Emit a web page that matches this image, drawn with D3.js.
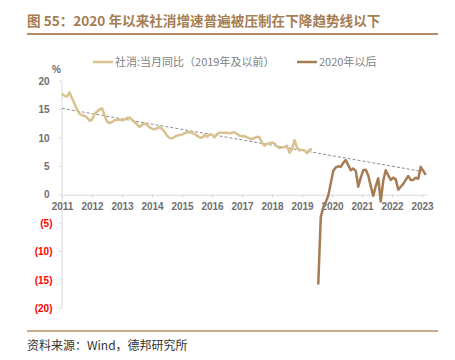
<!DOCTYPE html>
<html><head><meta charset="utf-8">
<script src="https://cdn.jsdelivr.net/npm/d3@7"></script>
<style>
body{margin:0;background:#fff;}
svg{display:block;font-family:"Liberation Sans","Noto Sans CJK SC",sans-serif;}
</style></head>
<body><svg id="c" width="455" height="360"></svg>
<script>
const title = "图 55：2020 年以来社消增速普遍被压制在下降趋势线以下";
const source = "资料来源：Wind，德邦研究所";
const legendLabels = ["社消:当月同比（2019年及以前）", "2020年以后"];
const yearLabels = ["2011","2012","2013","2014","2015","2016","2017","2018","2019","2020","2021","2022","2023"];
const yTicks = [20, 15, 10, 5, 0, -5, -10, -15, -20];
// monthly values, month index 0 = Jan 2011
const series1 = [17.8,17.4,17.3,18.0,17.0,16.0,15.0,14.3,14.0,13.9,13.6,13.0,
  13.2,14.2,14.6,15.0,15.2,14.0,12.9,12.6,12.8,13.1,13.2,13.2,
  13.1,13.2,13.5,13.6,13.2,12.8,12.4,11.9,12.3,12.5,12.3,11.9,
  11.6,11.5,11.7,11.9,11.6,11.1,10.4,10.0,9.9,10.2,10.4,10.5,
  10.6,10.8,11.0,11.0,10.9,10.7,10.4,10.1,10.0,10.5,10.2,10.6,
  10.6,10.1,10.7,10.9,10.9,10.9,10.9,10.8,10.9,11.0,10.7,10.4,
  10.3,10.3,10.1,9.9,9.8,10.0,10.2,10.1,9.2,8.6,9.0,9.0,
  9.2,9.0,8.5,8.2,8.3,8.4,8.6,7.4,8.0,9.6,8.3,7.8,
  7.9,7.8,7.3,7.9,8.0];
const series1Start = 0;
const series2 = [-15.8,-4.0,-2.2,-1.3,-0.2,2.0,4.2,4.8,5.0,4.9,5.6,6.1,
  5.2,4.3,4.6,4.2,1.4,3.0,4.3,4.4,3.4,1.5,-0.2,1.5,
  2.9,-1.2,2.5,4.3,3.4,2.6,3.0,2.7,0.9,1.4,1.9,2.6,
  3.3,2.6,2.6,3.0,2.8,4.9,4.2,3.5];
const series2Start = 102.5;
const trendIdx = [0, 144];
const trendVals = [15.2, 4.1];

const svg = d3.select("#c");
const x = d3.scaleLinear().domain([0, 146]).range([62, 427]);
const y = d3.scaleLinear().domain([-20, 20]).range([308.3, 81.1]);

// title
svg.append("text").attr("x", 27).attr("y", 26).attr("fill", "#A57D52")
  .attr("font-size", 13.6).attr("font-weight", "bold")
  .attr("font-family", "'Noto Sans CJK SC',sans-serif").text(title);
svg.append("line").attr("x1", 27).attr("x2", 438).attr("y1", 34).attr("y2", 34)
  .attr("stroke", "#B48D66").attr("stroke-width", 2);

// legend
const lg = [{c:"#D9C290", x:93, t:legendLabels[0]}, {c:"#A67C52", x:297, t:legendLabels[1]}];
lg.forEach(d => {
  svg.append("line").attr("x1", d.x).attr("x2", d.x + 20).attr("y1", 62).attr("y2", 62)
    .attr("stroke", d.c).attr("stroke-width", 2.5);
  svg.append("text").attr("x", d.x + 22).attr("y", 66).attr("fill", "#7f7f7f")
    .attr("font-size", 11).attr("font-family", "'Noto Sans CJK SC',sans-serif").text(d.t);
});

// y axis
svg.append("line").attr("x1", 62).attr("x2", 62).attr("y1", y(20)).attr("y2", y(-20))
  .attr("stroke", "#d9d9d9").attr("stroke-width", 1);
yTicks.forEach(v => {
  svg.append("line").attr("x1", 59).attr("x2", 62).attr("y1", y(v)).attr("y2", y(v))
    .attr("stroke", "#d9d9d9");
  svg.append("text").attr("x", v < 0 ? 52.5 : 49.5).attr("y", y(v) + 3.6)
    .attr("text-anchor", "end").attr("font-size", 10).attr("font-weight", "bold")
    .attr("fill", v < 0 ? "#ff0000" : "#6f6f6f")
    .text(v < 0 ? "(" + (-v) + ")" : v);
});
svg.append("text").attr("x", 52).attr("y", 73).attr("font-size", 10).attr("font-weight", "bold")
  .attr("fill", "#6f6f6f").text("%");

// x axis
const xAxis = d3.axisBottom(x).tickValues(yearLabels.map((d, i) => i * 12))
  .tickFormat((d, i) => yearLabels[i]).tickSize(3).tickSizeOuter(0);
const gx = svg.append("g").attr("transform", `translate(0,${y(0)})`).call(xAxis);
gx.select(".domain").attr("stroke", "#d9d9d9");
gx.selectAll(".tick line").attr("stroke", "#d9d9d9");
gx.selectAll(".tick text").attr("fill", "#6f6f6f").attr("font-size", 10)
  .attr("font-weight", "bold").attr("font-family", "'Liberation Sans',sans-serif").attr("dy", "0.95em");

// trend line
svg.append("line").attr("x1", x(trendIdx[0])).attr("x2", x(trendIdx[1]))
  .attr("y1", y(trendVals[0])).attr("y2", y(trendVals[1]))
  .attr("stroke", "#7f7f7f").attr("stroke-width", 0.9).attr("stroke-dasharray", "3,2");

// series
const line = d3.line().x(d => x(d[0])).y(d => y(d[1]));
svg.append("path").datum(series1.map((v, i) => [series1Start + i, v]))
  .attr("d", line).attr("fill", "none").attr("stroke", "#D9C290").attr("stroke-width", 2.5)
  .attr("stroke-linejoin", "round");
svg.append("path").datum(series2.map((v, i) => [series2Start + i, v]))
  .attr("d", line).attr("fill", "none").attr("stroke", "#A67C52").attr("stroke-width", 2.5)
  .attr("stroke-linejoin", "round");

// bottom rule and source
svg.append("line").attr("x1", 27).attr("x2", 438).attr("y1", 331).attr("y2", 331)
  .attr("stroke", "#B48D66").attr("stroke-width", 1.5);
svg.append("text").attr("x", 27).attr("y", 350).attr("fill", "#333")
  .attr("font-size", 12).attr("font-family", "'Noto Sans CJK SC',sans-serif").text(source);
</script></body></html>
